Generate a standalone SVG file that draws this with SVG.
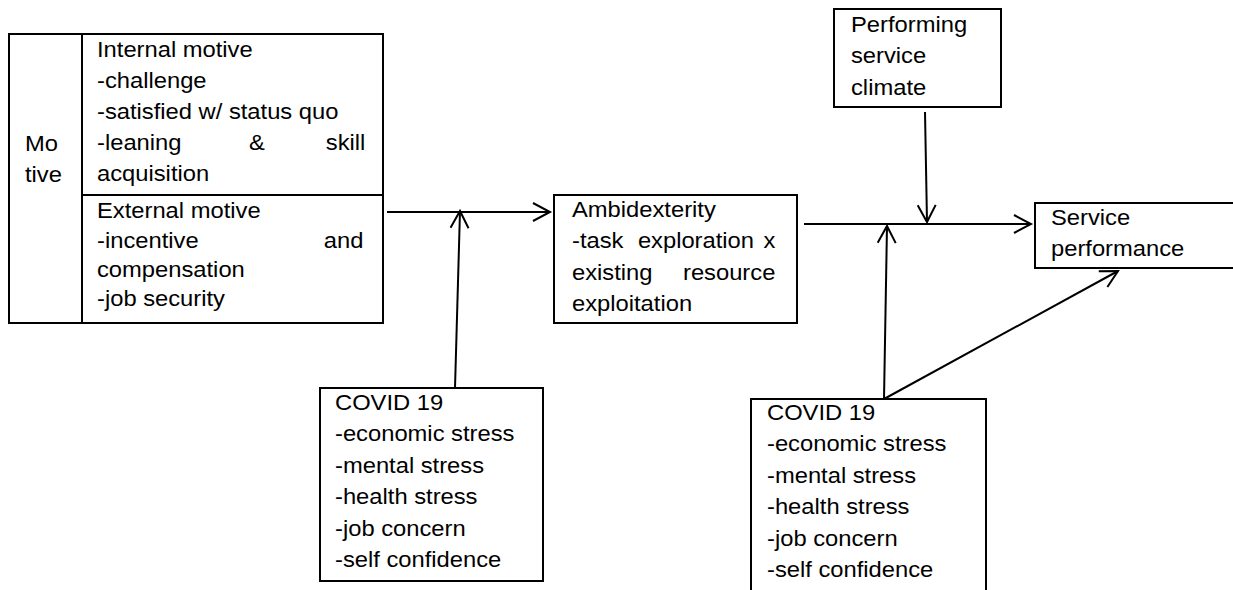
<svg xmlns="http://www.w3.org/2000/svg" width="1233" height="590" viewBox="0 0 1233 590">
<style>
.box{fill:#fff;stroke:#000;stroke-width:2}
.ln{fill:none;stroke:#000;stroke-width:2}
.con{fill:none;stroke:#000;stroke-width:2;marker-end:url(#arr)}
text{font-family:"Liberation Sans",Arial,sans-serif;font-size:22px;fill:#000}
</style>
<defs>
<marker id="arr" markerUnits="userSpaceOnUse" markerWidth="22" markerHeight="22" viewBox="0 0 22 22" refX="19" refY="11" orient="auto">
<path d="M2,2 L19,11 L2,20" fill="none" stroke="#000" stroke-width="2"/>
</marker>
</defs>
<rect width="1233" height="590" fill="#fff"/>

<g id="motive">
<rect class="box" x="9" y="34" width="374" height="289"/>
<line class="ln" x1="82" y1="34" x2="82" y2="323"/>
<line class="ln" x1="82" y1="195" x2="383" y2="195"/>
<text transform="translate(25,0) scale(1.08,1)"><tspan x="0" y="151">Mo</tspan><tspan x="0" y="182">tive</tspan></text>
<text transform="translate(97,0) scale(1.08,1)">
<tspan x="0" y="57">Internal motive</tspan>
<tspan x="0" y="88">-challenge</tspan>
<tspan x="0" y="119">-satisfied w/ status quo</tspan>
<tspan x="0" y="150">-leaning</tspan><tspan x="148" y="150" text-anchor="middle">&amp;</tspan><tspan x="254.6" y="150" text-anchor="end">skill</tspan>
<tspan x="0" y="181">acquisition</tspan>
<tspan x="0" y="218">External motive</tspan>
<tspan x="0" y="248">-incentive</tspan><tspan x="252.8" y="248" text-anchor="end">and</tspan>
<tspan x="0" y="277">compensation</tspan>
<tspan x="0" y="306">-job security</tspan>
</text>
</g>

<g id="ambidexterity">
<rect class="box" x="554" y="195" width="243" height="128"/>
<text transform="translate(572,0) scale(1.08,1)">
<tspan x="0" y="217">Ambidexterity</tspan>
<tspan x="0" y="248.5">-task</tspan><tspan x="61" y="248.5">exploration</tspan><tspan x="194.4" y="248.5" text-anchor="end">x</tspan>
<tspan x="0" y="280">existing</tspan><tspan x="194.4" y="280" text-anchor="end">resource</tspan>
<tspan x="0" y="311.5">exploitation</tspan>
</text>
</g>

<g id="climate">
<rect class="box" x="834" y="9" width="167" height="98"/>
<text transform="translate(851,0) scale(1.08,1)">
<tspan x="0" y="32">Performing</tspan>
<tspan x="0" y="63.5">service</tspan>
<tspan x="0" y="95">climate</tspan>
</text>
</g>

<g id="performance">
<rect class="box" x="1035" y="203" width="210" height="65"/>
<text transform="translate(1051,0) scale(1.08,1)">
<tspan x="0" y="225">Service</tspan>
<tspan x="0" y="256.5">performance</tspan>
</text>
</g>

<g id="covid1">
<rect class="box" x="320" y="388" width="223" height="193"/>
<text transform="translate(335,0) scale(1.08,1)">
<tspan x="0" y="410">COVID 19</tspan>
<tspan x="0" y="441.5">-economic stress</tspan>
<tspan x="0" y="473">-mental stress</tspan>
<tspan x="0" y="504.5">-health stress</tspan>
<tspan x="0" y="536">-job concern</tspan>
<tspan x="0" y="567.5">-self confidence</tspan>
</text>
</g>

<g id="covid2">
<rect class="box" x="751" y="399" width="235" height="200"/>
<text transform="translate(767,0) scale(1.08,1)">
<tspan x="0" y="420">COVID 19</tspan>
<tspan x="0" y="451.5">-economic stress</tspan>
<tspan x="0" y="483">-mental stress</tspan>
<tspan x="0" y="514.5">-health stress</tspan>
<tspan x="0" y="546">-job concern</tspan>
<tspan x="0" y="577.5">-self confidence</tspan>
</text>
</g>

<g id="connectors">
<line class="con" x1="387" y1="212" x2="550" y2="212"/>
<line class="con" x1="455" y1="388" x2="460" y2="211"/>
<line class="con" x1="804" y1="224" x2="1031" y2="224"/>
<line class="con" x1="925" y1="112" x2="927" y2="222"/>
<line class="con" x1="884" y1="399" x2="887" y2="226"/>
<line class="con" x1="884" y1="399" x2="1118" y2="271"/>
</g>
</svg>
